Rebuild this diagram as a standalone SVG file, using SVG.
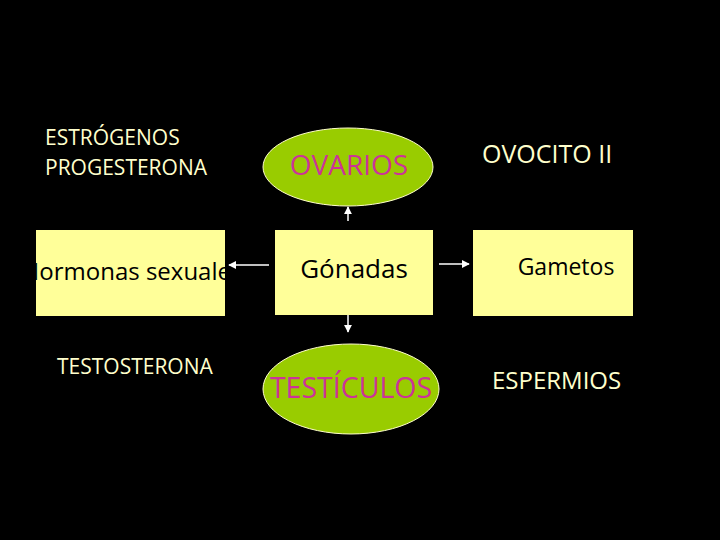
<svg xmlns="http://www.w3.org/2000/svg" width="720" height="540" viewBox="0 0 720 540">
<defs>
<style>
text{font-family:"Open Sans","Noto Sans","DejaVu Sans",sans-serif}
.lbl{fill:#FFFFCC;font-size:21px}
.box{fill:#FFFF99}
.btx{fill:#000;font-size:23px}
.ell{fill:#99CC00;stroke:#FFFFCC;stroke-width:1}
.etx{fill:#CC3399;font-size:28px}
.con{stroke:#FFFFFF;stroke-width:1.5;fill:none;marker-end:url(#ah)}
</style>
<marker id="ah" viewBox="0 0 10 10" refX="9" refY="5" markerWidth="5.5" markerHeight="5.5" orient="auto"><path d="M0,0L10,5L0,10z" fill="#FFFFFF"/></marker>
<clipPath id="hc"><rect x="32" y="230" width="194" height="86"/></clipPath>
</defs>
<rect width="720" height="540" fill="#000"/>
<g id="estrogenos"><text class="lbl" x="45" y="145">ESTRÓGENOS</text><text class="lbl" x="45" y="175">PROGESTERONA</text></g>
<g id="testosterona"><text class="lbl" x="57" y="374">TESTOSTERONA</text></g>
<g id="ovocito"><text class="lbl" x="482" y="163" style="font-size:25px">OVOCITO II</text></g>
<g id="espermios"><text class="lbl" x="492" y="389" style="font-size:24px">ESPERMIOS</text></g>
<g id="hormonas"><rect class="box" x="36" y="230" width="189" height="86"/><text class="btx" clip-path="url(#hc)" x="132" y="280" text-anchor="middle" style="font-size:24px">Hormonas sexuales</text></g>
<g id="gonadas"><rect class="box" x="275" y="230" width="158" height="85"/><text class="btx" x="354" y="278" text-anchor="middle" style="font-size:26px">Gónadas</text></g>
<g id="gametos"><rect class="box" x="473" y="230" width="160" height="86"/><text class="btx" x="566" y="275" text-anchor="middle">Gametos</text></g>
<g id="ovarios"><ellipse class="ell" cx="348" cy="167" rx="85" ry="39"/><text class="etx" x="349" y="175" text-anchor="middle">OVARIOS</text></g>
<g id="testiculos"><ellipse class="ell" cx="351" cy="389" rx="88" ry="45"/><text class="etx" x="351" y="398" text-anchor="middle" style="font-size:28.5px">TESTÍCULOS</text></g>
<g id="connectors">
<line class="con" x1="269" y1="265" x2="229" y2="265"/>
<line class="con" x1="439" y1="264" x2="469" y2="264"/>
<line class="con" x1="348" y1="221" x2="348" y2="207"/>
<line class="con" x1="348" y1="315" x2="348" y2="332"/>
</g>
</svg>
